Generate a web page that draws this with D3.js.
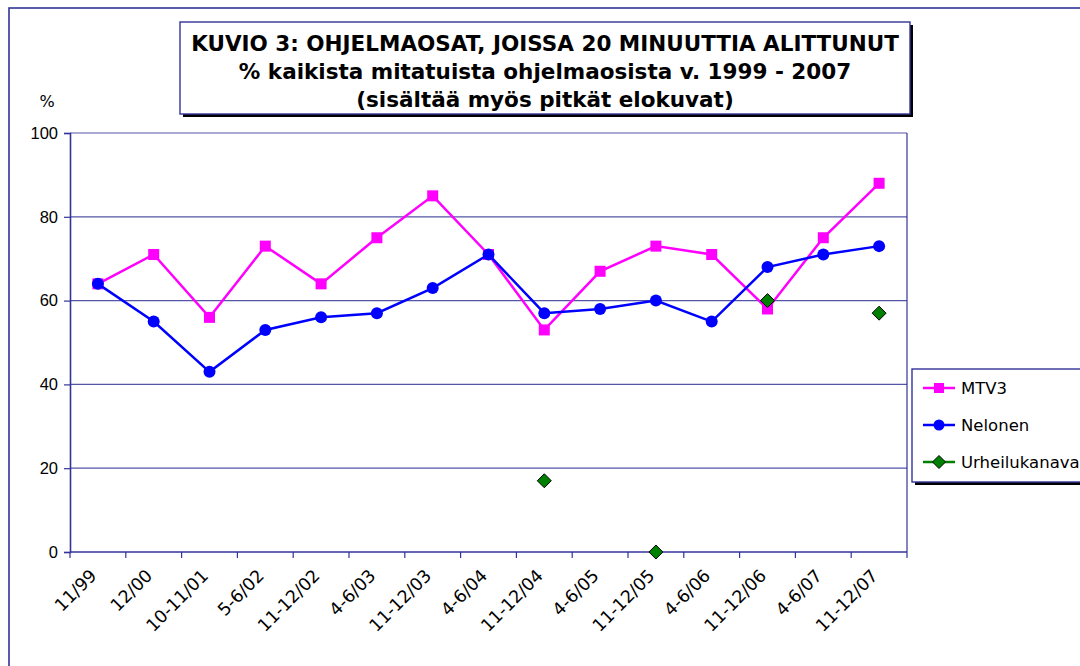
<!DOCTYPE html>
<html>
<head>
<meta charset="utf-8">
<script src="https://cdn.jsdelivr.net/npm/d3@7"></script>
<style>
  body { margin: 0; background: #fff; }
  svg { display: block; font-family: "DejaVu Sans", Verdana, sans-serif; }
</style>
</head>
<body>
<div id="chart"></div>
<script>
// periods measured
const periods = ["11/99", "12/00", "10-11/01", "5-6/02", "11-12/02", "4-6/03", "11-12/03",
    "4-6/04", "11-12/04", "4-6/05", "11-12/05", "4-6/06", "11-12/06", "4-6/07", "11-12/07"];

const mtv3 = [64, 71, 56, 73, 64, 75, 85, 71, 53, 67, 73, 71, 58, 75, 88];
const nelonen = [64, 55, 43, 53, 56, 57, 63, 71, 57, 58, 60, 55, 68, 71, 73];
const urheilukanava = [null, null, null, null, null, null, null, null, 17, null, 0, null, 60, null, 57];

const yTicks = [0, 20, 40, 60, 80, 100];

const titleLines = [
    "KUVIO 3: OHJELMAOSAT, JOISSA 20 MINUUTTIA ALITTUNUT",
    "% kaikista mitatuista ohjelmaosista v. 1999 - 2007",
    "(sisältää myös pitkät elokuvat)"
];

const series = [
    {name: "MTV3", values: mtv3, color: "#ff00ff", marker: "square", line: true},
    {name: "Nelonen", values: nelonen, color: "#0000ff", marker: "circle", line: true},
    {name: "Urheilukanava", values: urheilukanava, color: "#008000", marker: "diamond", line: false}
];

const width = 1080, height = 666;
const navy = "#333399";
const margin = {top: 133, right: 173, bottom: 114, left: 70};

const svg = d3.select("#chart").append("svg")
    .attr("width", width)
    .attr("height", height)
    .attr("viewBox", [0, 0, width, height]);

// outer chart frame
svg.append("rect")
    .attr("x", 9).attr("y", 8)
    .attr("width", width + 20).attr("height", height + 20)
    .attr("fill", "white")
    .attr("stroke", navy)
    .attr("stroke-width", 1.6);

const x = d3.scaleBand()
    .domain(periods)
    .range([margin.left, width - margin.right]);

const y = d3.scaleLinear()
    .domain([0, 100])
    .range([height - margin.bottom, margin.top]);

// gridlines
svg.append("g")
    .selectAll("line")
    .data(yTicks.filter(d => d > 0))
    .join("line")
        .attr("x1", margin.left).attr("x2", width - margin.right)
        .attr("y1", d => y(d)).attr("y2", d => y(d))
        .attr("stroke", "#5555a8")
        .attr("stroke-width", 1.2);

// right border of plot area
svg.append("line")
    .attr("x1", width - margin.right).attr("x2", width - margin.right)
    .attr("y1", margin.top).attr("y2", height - margin.bottom)
    .attr("stroke", navy).attr("stroke-width", 1.2);

// y axis
svg.append("g")
    .attr("transform", `translate(${margin.left},0)`)
    .call(d3.axisLeft(y).tickValues(yTicks).tickSize(6).tickPadding(6))
    .call(g => g.select(".domain").attr("stroke", navy).attr("stroke-width", 1.6))
    .call(g => g.selectAll(".tick line").attr("stroke", navy).attr("stroke-width", 1.2))
    .call(g => g.selectAll(".tick text")
        .attr("fill", "#000")
        .style("font-size", "16.5px"));

svg.append("text")
    .attr("x", 47).attr("y", 107)
    .attr("text-anchor", "middle")
    .style("font-size", "16px")
    .text("%");

// x axis with band-edge ticks
const xAxis = svg.append("g")
    .attr("transform", `translate(0,${height - margin.bottom})`);

xAxis.append("line")
    .attr("x1", margin.left).attr("x2", width - margin.right)
    .attr("stroke", navy).attr("stroke-width", 1.6);

const edges = periods.map(p => x(p)).concat([x.range()[1]]);
xAxis.selectAll("line.tk")
    .data(edges)
    .join("line")
        .attr("class", "tk")
        .attr("x1", d => d).attr("x2", d => d)
        .attr("y1", 0).attr("y2", 6)
        .attr("stroke", navy).attr("stroke-width", 1.2);

xAxis.selectAll("text")
    .data(periods)
    .join("text")
        .attr("transform", d => `translate(${x(d) + x.bandwidth() / 2 - 9},${16}) rotate(-45)`)
        .attr("text-anchor", "end")
        .attr("dy", "0.71em")
        .style("font-size", "17.5px")
        .text(d => d);

// markers
function drawMarker(sel, type, color, s) {
    if (type === "square") {
        sel.append("rect")
            .attr("x", -s).attr("y", -s)
            .attr("width", 2 * s).attr("height", 2 * s)
            .attr("fill", color);
    } else if (type === "circle") {
        sel.append("circle")
            .attr("r", s + 0.5)
            .attr("fill", color);
    } else {
        sel.append("path")
            .attr("d", `M0,${-s - 1.5}L${s + 1.5},0L0,${s + 1.5}L${-s - 1.5},0Z`)
            .attr("fill", color)
            .attr("stroke", "#000")
            .attr("stroke-width", 1);
    }
}

const cx = i => x(periods[i]) + x.bandwidth() / 2;

series.forEach(s => {
    const pts = s.values.map((v, i) => ({i, v})).filter(d => d.v !== null);
    if (s.line) {
        svg.append("path")
            .datum(pts)
            .attr("fill", "none")
            .attr("stroke", s.color)
            .attr("stroke-width", 2.5)
            .attr("d", d3.line().x(d => cx(d.i)).y(d => y(d.v)));
    }
    svg.append("g")
        .selectAll("g")
        .data(pts)
        .join("g")
            .attr("transform", d => `translate(${cx(d.i)},${y(d.v)})`)
            .each(function() { drawMarker(d3.select(this), s.marker, s.color, 5.5); });
});

// title box with shadow
const tb = {x: 180, y: 22, w: 730, h: 92};
svg.append("rect")
    .attr("x", tb.x + 3).attr("y", tb.y + 3)
    .attr("width", tb.w).attr("height", tb.h)
    .attr("fill", "#000");
svg.append("rect")
    .attr("x", tb.x).attr("y", tb.y)
    .attr("width", tb.w).attr("height", tb.h)
    .attr("fill", "white")
    .attr("stroke", navy)
    .attr("stroke-width", 1.4);

svg.append("g")
    .selectAll("text")
    .data(titleLines)
    .join("text")
        .attr("x", tb.x + tb.w / 2)
        .attr("y", (d, i) => 51 + i * 28)
        .attr("text-anchor", "middle")
        .style("font-size", "21.5px")
        .style("font-weight", "bold")
        .text(d => d);

// legend with shadow
const lg = {x: 912, y: 369, w: 200, h: 113};
svg.append("rect")
    .attr("x", lg.x + 3).attr("y", lg.y + 3)
    .attr("width", lg.w).attr("height", lg.h)
    .attr("fill", "#000");
svg.append("rect")
    .attr("x", lg.x).attr("y", lg.y)
    .attr("width", lg.w).attr("height", lg.h)
    .attr("fill", "white")
    .attr("stroke", navy)
    .attr("stroke-width", 1.4);

const item = svg.append("g")
    .selectAll("g")
    .data(series)
    .join("g")
        .attr("transform", (d, i) => `translate(${lg.x + 11},${388 + i * 37})`);

item.append("line")
    .attr("x1", 0).attr("x2", 32)
    .attr("stroke", d => d.color)
    .attr("stroke-width", 2.5);

item.append("g")
    .attr("transform", "translate(16,0)")
    .each(function(d) { drawMarker(d3.select(this), d.marker, d.color, 5); });

item.append("text")
    .attr("x", 38)
    .attr("dy", "0.36em")
    .style("font-size", "16.5px")
    .text(d => d.name);
</script>
</body>
</html>
